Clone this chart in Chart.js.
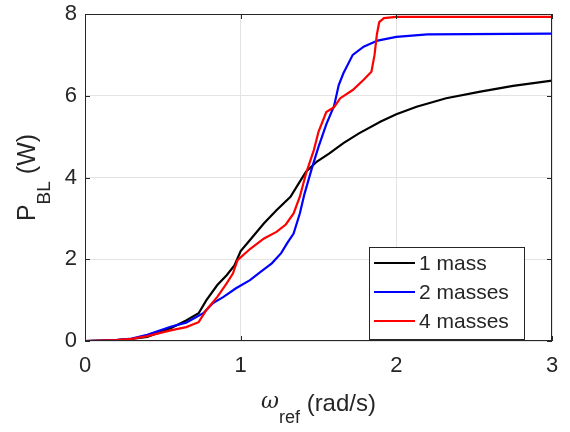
<!DOCTYPE html>
<html>
<head>
<meta charset="utf-8">
<script src="https://cdn.jsdelivr.net/npm/chart.js@4.4.1/dist/chart.umd.min.js"></script>
<style>
  html, body { margin: 0; padding: 0; background: #fff; }
  #grafico { display: block; }
</style>
</head>
<body>
<canvas id="grafico" width="570" height="432"></canvas>
<script>
// Datos (omega_ref en rad/s, P_BL en W)
const etiquetas = ['1 mass', '2 masses', '4 masses']
const colores = ['#000000', '#0000ff', '#ff0000']

const xUnaMasa = [0, 0.2, 0.3, 0.4, 0.55, 0.65, 0.73, 0.78, 0.85, 0.91, 0.96, 1.0, 1.06, 1.15, 1.23, 1.32, 1.38, 1.42, 1.49, 1.57, 1.66, 1.76, 1.9, 2.0, 2.13, 2.32, 2.54, 2.75, 3.0]
const yUnaMasa = [0, 0.02, 0.05, 0.1, 0.31, 0.5, 0.68, 1.0, 1.37, 1.61, 1.85, 2.2, 2.47, 2.88, 3.2, 3.53, 3.9, 4.14, 4.39, 4.59, 4.84, 5.08, 5.37, 5.55, 5.73, 5.94, 6.1, 6.24, 6.37]

const xDosMasas = [0, 0.2, 0.3, 0.4, 0.55, 0.65, 0.76, 0.82, 0.89, 0.97, 1.06, 1.13, 1.2, 1.26, 1.3, 1.34, 1.38, 1.41, 1.46, 1.5, 1.55, 1.6, 1.63, 1.66, 1.72, 1.79, 1.88, 2.0, 2.2, 3.0]
const yDosMasas = [0, 0.02, 0.06, 0.15, 0.35, 0.45, 0.68, 0.92, 1.08, 1.29, 1.49, 1.7, 1.9, 2.15, 2.4, 2.63, 3.12, 3.6, 4.26, 4.75, 5.3, 5.75, 6.26, 6.55, 7.0, 7.2, 7.35, 7.44, 7.5, 7.52]

const xCuatroMasas = [0, 0.2, 0.3, 0.4, 0.55, 0.65, 0.73, 0.78, 0.85, 0.91, 0.95, 0.98, 1.06, 1.15, 1.23, 1.29, 1.34, 1.38, 1.42, 1.47, 1.5, 1.55, 1.6, 1.64, 1.72, 1.79, 1.84, 1.86, 1.875, 1.89, 1.92, 2.0, 3.0]
const yCuatroMasas = [0, 0.02, 0.05, 0.12, 0.26, 0.34, 0.46, 0.76, 1.08, 1.41, 1.65, 1.98, 2.25, 2.51, 2.67, 2.85, 3.12, 3.53, 4.1, 4.67, 5.12, 5.6, 5.72, 5.94, 6.14, 6.39, 6.59, 7.0, 7.5, 7.8, 7.9, 7.93, 7.93]

const xTicks = [0, 1, 2, 3]
const yTicks = [0, 2, 4, 6, 8]

const fuente = '"Liberation Sans", Arial, Helvetica, sans-serif'
const gris = '#262626'

function puntos(xs, ys) {
    return xs.map((x, i) => ({ x: x, y: ys[i] }))
}

// caja, ticks hacia adentro, leyenda y titulos estilo matlab
const estiloMatlab = {
    id: 'estiloMatlab',
    afterDatasetsDraw(chart) {
        const { ctx, chartArea: a, scales } = chart
        ctx.save()
        ctx.strokeStyle = gris
        ctx.lineWidth = 1
        ctx.beginPath()
        xTicks.forEach(t => {
            const px = Math.round(scales.x.getPixelForValue(t)) + 0.5
            ctx.moveTo(px, a.bottom); ctx.lineTo(px, a.bottom - 5)
            ctx.moveTo(px, a.top); ctx.lineTo(px, a.top + 5)
        })
        yTicks.forEach(t => {
            const py = Math.round(scales.y.getPixelForValue(t)) + 0.5
            ctx.moveTo(a.left, py); ctx.lineTo(a.left + 5, py)
            ctx.moveTo(a.right, py); ctx.lineTo(a.right - 5, py)
        })
        ctx.stroke()
        ctx.strokeRect(Math.round(a.left) + 0.5, Math.round(a.top) + 0.5, Math.round(a.width) - 1, Math.round(a.height) - 1)

        // leyenda
        const lx = a.right - 183, ly = a.bottom - 94
        ctx.fillStyle = '#fff'
        ctx.fillRect(lx, ly, 155, 92)
        ctx.strokeRect(lx + 0.5, ly + 0.5, 155, 92)
        ctx.font = '21px ' + fuente
        ctx.textBaseline = 'middle'
        ctx.textAlign = 'left'
        etiquetas.forEach((txt, i) => {
            const yy = ly + 16 + i * 29
            ctx.strokeStyle = colores[i]
            ctx.lineWidth = 2
            ctx.beginPath()
            ctx.moveTo(lx + 5, yy); ctx.lineTo(lx + 46, yy)
            ctx.stroke()
            ctx.fillStyle = gris
            ctx.fillText(txt, lx + 50, yy + 1)
        })

        // titulo eje x: omega_ref (rad/s)
        const cx = (a.left + a.right) / 2
        const ty = 404
        ctx.fillStyle = gris
        ctx.font = 'italic 22px "DejaVu Serif", serif'
        const w1 = ctx.measureText('ω').width
        ctx.font = '18px ' + fuente
        const w2 = ctx.measureText('ref').width
        ctx.font = '24px ' + fuente
        const w3 = ctx.measureText(' (rad/s)').width
        let x0 = cx - (w1 + w2 + w3) / 2
        ctx.font = 'italic 22px "DejaVu Serif", serif'
        ctx.fillText('ω', x0, ty - 2)
        ctx.font = '18px ' + fuente
        ctx.fillText('ref', x0 + w1, ty + 14)
        ctx.font = '24px ' + fuente
        ctx.fillText(' (rad/s)', x0 + w1 + w2, ty)

        // titulo eje y: P_BL (W)
        const cy = (a.top + a.bottom) / 2
        ctx.translate(28, cy)
        ctx.rotate(-Math.PI / 2)
        ctx.font = '25px ' + fuente
        const v1 = ctx.measureText('P').width
        const v3 = ctx.measureText(' (W)').width
        ctx.font = '19px ' + fuente
        const v2 = ctx.measureText('BL').width
        let y0 = -(v1 + v2 + v3) / 2
        ctx.font = '25px ' + fuente
        ctx.fillText('P', y0, 0)
        ctx.font = '19px ' + fuente
        ctx.fillText('BL', y0 + v1, 17)
        ctx.font = '25px ' + fuente
        ctx.fillText(' (W)', y0 + v1 + v2, 0)
        ctx.restore()
    }
}

const series = [
    { label: etiquetas[0], data: puntos(xUnaMasa, yUnaMasa), borderColor: colores[0], order: 3 },
    { label: etiquetas[1], data: puntos(xDosMasas, yDosMasas), borderColor: colores[1], order: 2 },
    { label: etiquetas[2], data: puntos(xCuatroMasas, yCuatroMasas), borderColor: colores[2], order: 1 }
]

const miChart = new Chart(document.getElementById('grafico'), {
    type: 'line',
    data: {
        datasets: series.map(s => Object.assign({
            borderWidth: 2.2,
            pointRadius: 0,
            tension: 0,
            fill: false
        }, s))
    },
    options: {
        responsive: false,
        animation: false,
        layout: { padding: { left: 0, top: 14, right: 18, bottom: 0 } },
        plugins: {
            legend: { display: false },
            tooltip: { enabled: false }
        },
        scales: {
            x: {
                type: 'linear',
                min: 0,
                max: 3,
                afterBuildTicks: s => { s.ticks = xTicks.map(v => ({ value: v })) },
                afterFit: s => { s.height = 91; s.paddingLeft = 0; s.paddingRight = 0 },
                grid: { color: '#e3e3e3', drawTicks: false },
                border: { display: false },
                ticks: { color: gris, padding: 12, font: { family: fuente, size: 22 } }
            },
            y: {
                min: 0,
                max: 8,
                afterBuildTicks: s => { s.ticks = yTicks.map(v => ({ value: v })) },
                afterFit: s => { s.width = 85; s.paddingTop = 0; s.paddingBottom = 0 },
                grid: { color: '#e3e3e3', drawTicks: false },
                border: { display: false },
                ticks: { color: gris, padding: 8, font: { family: fuente, size: 22 } }
            }
        }
    },
    plugins: [estiloMatlab]
})
</script>
</body>
</html>
